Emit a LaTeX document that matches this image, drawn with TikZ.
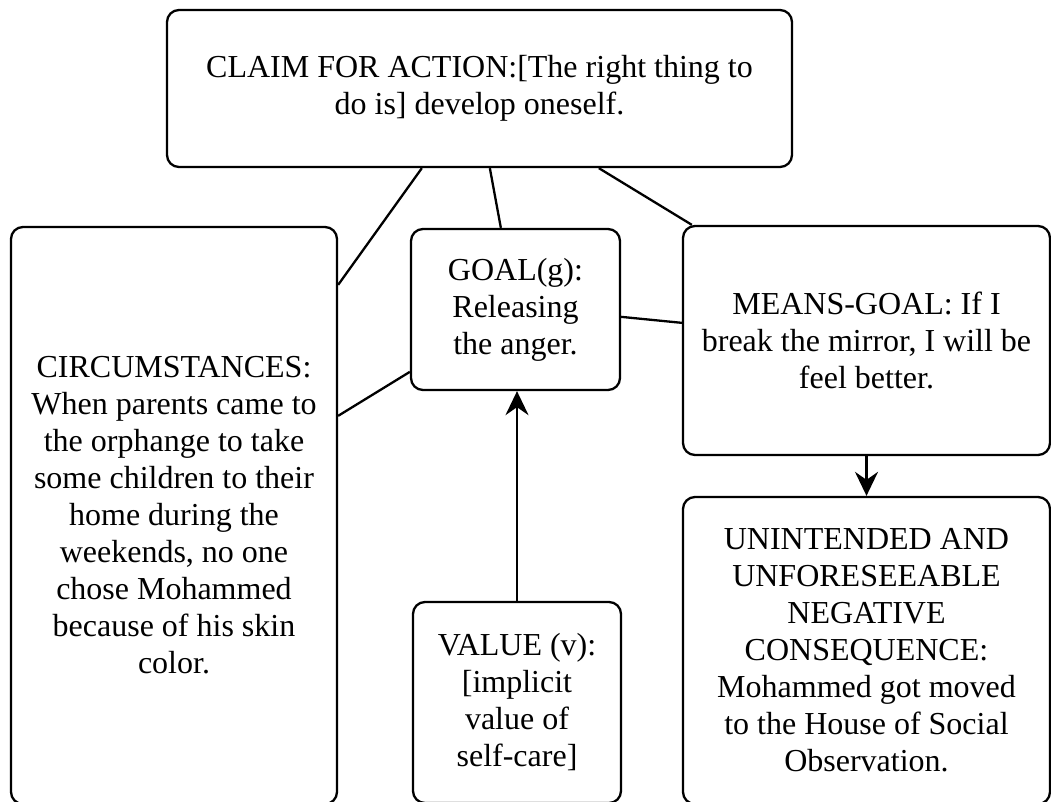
\documentclass[tikz,border=0pt]{standalone}
\usepackage{fontspec}
\setmainfont{Liberation Serif}
\usetikzlibrary{arrows.meta,calc}

\tikzset{
  box/.style={draw=black, fill=white, line width=2.3pt, rounded corners=12pt,
    inner sep=0pt, align=center, font=\fontsize{32}{37}\selectfont},
  link/.style={draw=black, line width=2.3pt},
  flow/.style={link, -{Stealth[length=24pt,width=23pt,inset=8pt]}},
}

\begin{document}
\begin{tikzpicture}[x=1pt,y=-1pt]
  % page area
  \fill[white] (0,0) rectangle (1051,802);
  \useasboundingbox (0,0) rectangle (1051,802);

  % boxes
  \node[box, minimum width=625pt, minimum height=157pt] (claim) at (479.5,88.5)
    {CLAIM FOR ACTION:[The right thing to\\do is] develop oneself.};
  \node[box, minimum width=326pt, minimum height=577pt] (circ) at (174,515.5)
    {CIRCUMSTANCES:\\When parents came to\\the orphange to take\\some children to their\\home during the\\weekends, no one\\chose Mohammed\\because of his skin\\color.};
  \node[box, minimum width=209pt, minimum height=161pt] (goal) at (515.5,309.5)
    {GOAL(g):\\Releasing\\the anger.};
  \node[box, minimum width=367pt, minimum height=229pt] (means) at (866.5,340.5)
    {MEANS-GOAL: If I\\break the mirror, I will be\\feel better.};
  \node[box, minimum width=208pt, minimum height=201pt] (value) at (517,702.5)
    {VALUE (v):\\{[}implicit\\value of\\self-care{]}};
  \node[box, minimum width=367pt, minimum height=307pt] (unint) at (866.5,650.5)
    {UNINTENDED AND\\UNFORESEEABLE\\NEGATIVE\\CONSEQUENCE:\\Mohammed got moved\\to the House of Social\\Observation.};

  % connectors
  \draw[link] ($(claim.south west)+(256,0)$) -- ($(circ.north east)+(0,59)$);
  \draw[link] ($(claim.south west)+(324,0)$) -- ($(goal.north west)+(91,0)$);
  \draw[link] ($(claim.south west)+(433,0)$) -- ($(means.north west)+(10,0)$);
  \draw[link] ($(goal.north east)+(0,89)$) -- ($(means.north west)+(0,98)$);
  \draw[link] ($(goal.north west)+(0,144)$) -- ($(circ.north east)+(0,190)$);
  \draw[flow] (value.north) -- (value.north |- goal.south);
  \draw[flow] (means.south) -- (unint.north);
\end{tikzpicture}
\end{document}
